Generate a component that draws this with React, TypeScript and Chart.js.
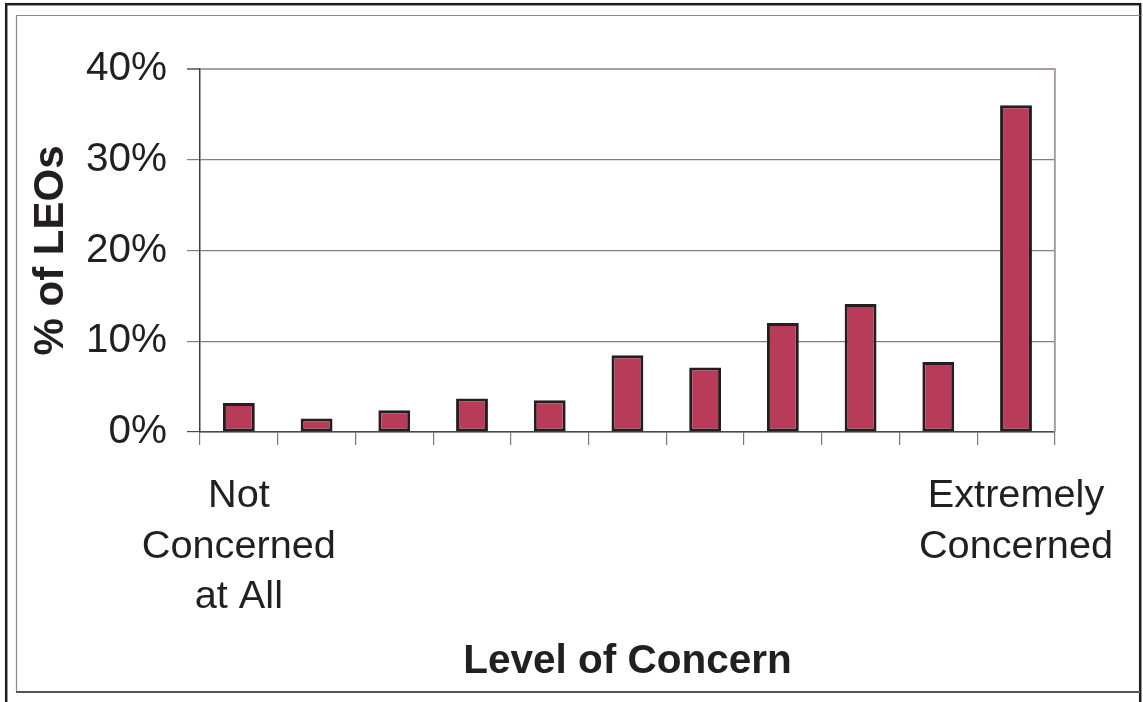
import React, { useEffect, useRef } from 'react';
import { Chart, registerables } from 'chart.js';

Chart.register(...registerables);

const categories: (string | string[])[] = [
  ['Not', 'Concerned', 'at All'], '', '', '', '', '', '', '', '', '', ['Extremely', 'Concerned'],
];
const shares = [3.2, 1.5, 2.4, 3.7, 3.5, 8.45, 7.1, 12.0, 14.1, 7.7, 36.0];
const yMin = 0;
const yMax = 40;
const yStep = 10;
const yTitle = '% of LEOs';
const xTitle = 'Level of Concern';

const FONT = '"Liberation Sans", Arial, Helvetica, sans-serif';
const W = 1143;
const H = 702;

const framePlugin = {
  id: 'frames',
  beforeDraw(chart: any) {
    const ctx = chart.ctx;
    ctx.save();
    ctx.fillStyle = '#ffffff';
    ctx.fillRect(0, 0, chart.width, chart.height);
    // outer frame
    ctx.strokeStyle = '#1e1e1e';
    ctx.lineWidth = 2.5;
    ctx.strokeRect(6.2, 4.2, chart.width - 2.8 - 6.2, chart.height + 20);
    // inner frame
    ctx.lineWidth = 1.2;
    ctx.strokeStyle = '#8a8a8a';
    ctx.beginPath();
    ctx.moveTo(16.5, 692);
    ctx.lineTo(16.5, 15.5);
    ctx.lineTo(chart.width - 2.8, 15.5);
    ctx.stroke();
    ctx.lineWidth = 2;
    ctx.strokeStyle = '#555555';
    ctx.beginPath();
    ctx.moveTo(16, 692);
    ctx.lineTo(chart.width - 2.8, 692);
    ctx.stroke();
    ctx.restore();
  },
  afterDraw(chart: any) {
    const { ctx, chartArea } = chart;
    ctx.save();
    ctx.strokeStyle = '#a8a09c';
    ctx.lineWidth = 2;
    ctx.beginPath();
    ctx.moveTo(chartArea.right, chartArea.top - 1);
    ctx.lineTo(chartArea.right, chartArea.bottom);
    ctx.stroke();
    ctx.restore();
  },
};

export default function App() {
  const ref = useRef<HTMLCanvasElement | null>(null);

  useEffect(() => {
    if (!ref.current) return;
    const chart = new Chart(ref.current, {
      type: 'bar',
      data: {
        labels: categories as any,
        datasets: [
          {
            data: shares,
            backgroundColor: '#b93b5a',
            borderColor: '#231f20',
            borderWidth: 3,
            borderSkipped: false,
            categoryPercentage: 1,
            barPercentage: 0.41,
          },
        ],
      },
      options: {
        responsive: false,
        animation: false,
        layout: { padding: { left: 0, top: 69, right: 86, bottom: 0 } },
        plugins: {
          legend: { display: false },
          tooltip: { enabled: false },
        },
        scales: {
          x: {
            grid: {
              offset: true,
              drawOnChartArea: false,
              drawTicks: true,
              tickLength: 13,
              color: '#7a7a7a',
              lineWidth: 1.2,
            },
            border: { display: true, color: '#4a4a4a', width: 1.5 },
            ticks: {
              autoSkip: false,
              maxRotation: 0,
              minRotation: 0,
              padding: 26,
              color: '#231f20',
              font: { family: FONT, size: 39.7, lineHeight: 1.27 },
            },
            title: {
              display: true,
              text: xTitle,
              color: '#231f20',
              font: { family: FONT, size: 40.5, weight: 'bold', lineHeight: 1.2 },
              padding: { top: 0, bottom: 16 },
            },
            afterFit(scale: any) {
              scale.height = 270;
            },
          },
          y: {
            min: yMin,
            max: yMax,
            ticks: {
              stepSize: yStep,
              padding: 20,
              color: '#231f20',
              font: { family: FONT, size: 40.5, lineHeight: 1.2 },
              callback: (v: any) => `${v}%`,
            },
            grid: {
              drawTicks: true,
              tickLength: 13,
              color: (c: any) =>
                c.tick && c.tick.value === yMax ? '#a8a09c' : c.tick && c.tick.value === yMin ? '#4a4a4a' : '#7f7f7f',
              tickColor: (c: any) =>
                c.tick && c.tick.value === yMin ? '#4a4a4a' : '#7f7f7f',
              lineWidth: (c: any) => (c.tick && c.tick.value === yMax ? 2 : 1.2),
            },
            border: { display: true, color: '#3f3f3f', width: 1.5 },
            title: {
              display: true,
              text: yTitle,
              color: '#231f20',
              font: { family: FONT, size: 42, weight: 'bold', lineHeight: 1.2 },
              padding: { top: 26, bottom: 0 },
            },
            afterFit(scale: any) {
              scale.width = 200;
            },
          },
        },
      },
      plugins: [framePlugin],
    } as any);
    return () => chart.destroy();
  }, []);

  return (
    <div style={{ position: 'fixed', left: 0, top: 0, width: W, height: H, background: '#fff' }}>
      <canvas ref={ref} width={W} height={H} style={{ display: 'block', width: W, height: H }} />
    </div>
  );
}
